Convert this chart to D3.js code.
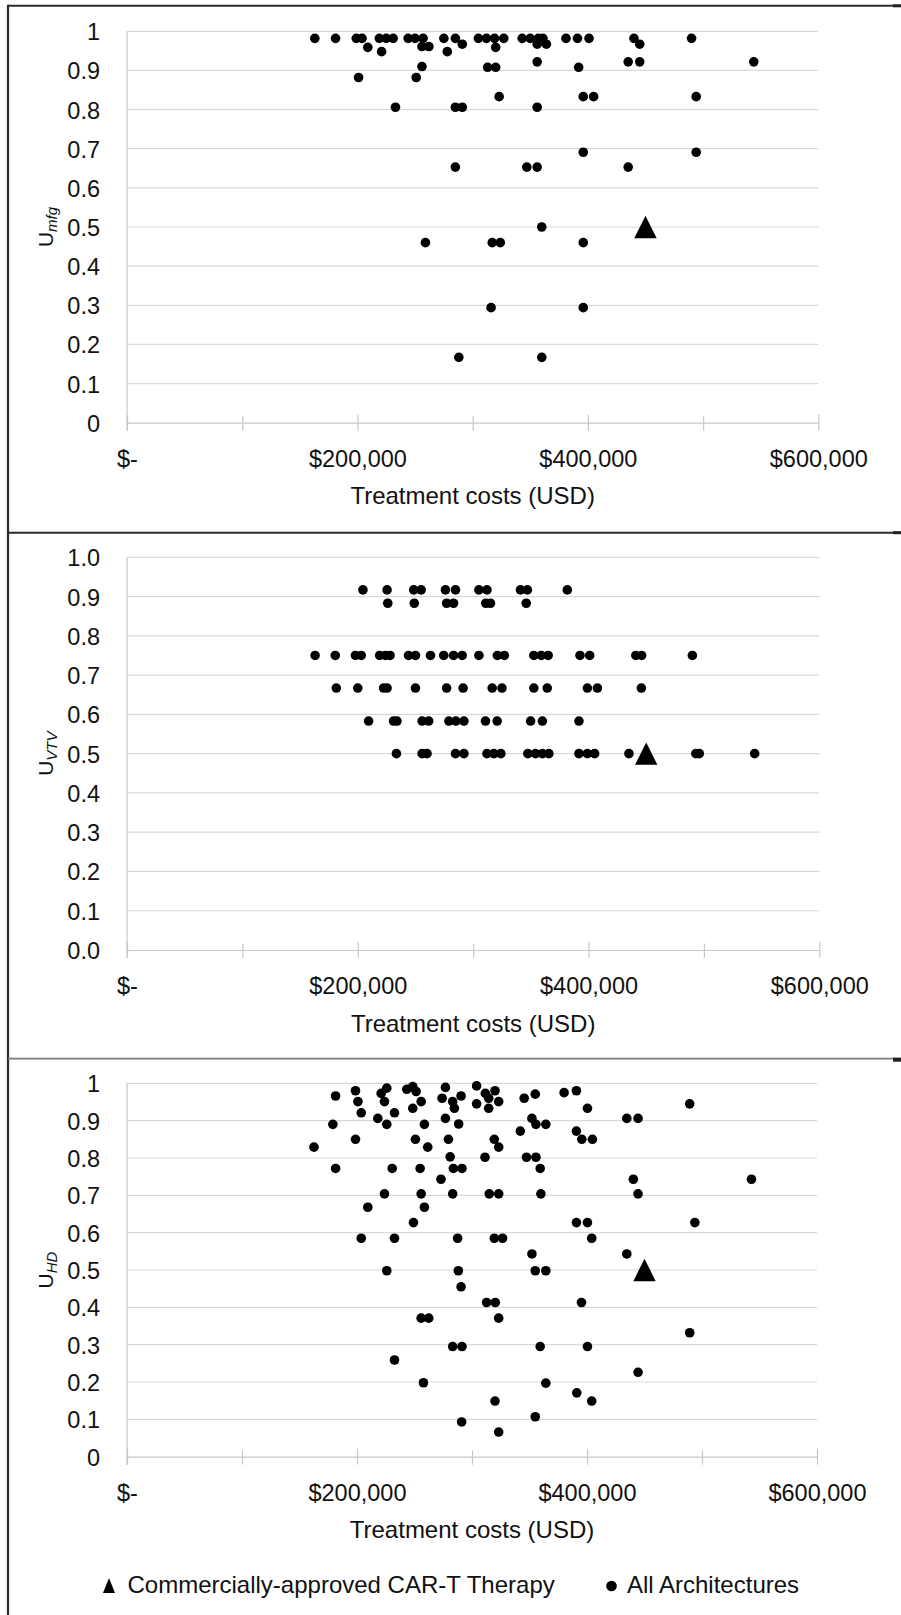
<!DOCTYPE html>
<html>
<head>
<meta charset="utf-8">
<script src="https://cdn.jsdelivr.net/npm/d3@7"></script>
<style>
  html, body { margin: 0; padding: 0; background: #fff; }
  svg { display: block; }
  text { font-family: "Liberation Sans", Arial, sans-serif; fill: #111; }
</style>
</head>
<body>
<svg id="chart" width="901" height="1615"></svg>
<script>
// Treatment cost axis (thousand USD)
const costTicks = [0, 100, 200, 300, 400, 500, 600];
const costLabels = { 0: "$-", 200: "$200,000", 400: "$400,000", 600: "$600,000" };
const uTicks = [0, 0.1, 0.2, 0.3, 0.4, 0.5, 0.6, 0.7, 0.8, 0.9, 1.0];

// Commercially-approved CAR-T therapy: [cost (k$), utility], same in all three panels
const approvedTherapy = [450, 0.5];

// Manufacturing utility U_mfg for every architecture: [cost (k$), utility]
const mfgPoints = [
  [163, 0.982], [181, 0.982], [199, 0.982], [204, 0.982], [219, 0.982], [225, 0.982],
  [231, 0.982], [244, 0.982], [250, 0.982], [257, 0.982], [275, 0.982], [285, 0.982],
  [305, 0.982], [312, 0.982], [319, 0.982], [327, 0.982], [343, 0.982], [350, 0.982],
  [357, 0.982], [361, 0.982], [381, 0.982], [391, 0.982], [401, 0.982], [440, 0.982],
  [490, 0.982],
  [209, 0.959], [221, 0.948], [256, 0.961], [262, 0.961], [278, 0.948], [291, 0.967],
  [320, 0.959], [356, 0.967], [364, 0.967], [445, 0.967],
  [356, 0.922], [435, 0.922], [445, 0.922], [544, 0.922],
  [256, 0.910], [313, 0.908], [320, 0.908], [392, 0.908],
  [201, 0.882], [251, 0.882],
  [323, 0.833], [396, 0.833], [405, 0.833], [494, 0.833],
  [233, 0.806], [285, 0.806], [291, 0.806], [356, 0.806],
  [396, 0.691], [494, 0.691],
  [285, 0.653], [347, 0.653], [356, 0.653], [435, 0.653],
  [360, 0.500],
  [259, 0.460], [317, 0.460], [324, 0.460], [396, 0.460],
  [316, 0.294], [396, 0.294],
  [288, 0.167], [360, 0.167]
];

// Vein-to-vein utility U_VTV
const vtvPoints = [
  [204.5, 0.917], [225.4, 0.917], [248.5, 0.917], [254.9, 0.917], [276, 0.917], [284.7, 0.917],
  [305, 0.917], [312, 0.917], [341, 0.917], [347, 0.917], [381.6, 0.917],
  [226, 0.883], [249, 0.883], [277, 0.883], [283, 0.883], [311, 0.883], [315, 0.883], [346, 0.883],
  [163, 0.75], [180.5, 0.75], [198, 0.75], [203, 0.75], [219, 0.75], [224, 0.75], [228, 0.75],
  [244, 0.75], [250, 0.75], [263, 0.75], [274.5, 0.75], [283, 0.75], [290.5, 0.75], [305, 0.75],
  [321, 0.75], [327, 0.75], [352.6, 0.75], [359, 0.75], [365, 0.75], [392.6, 0.75], [401, 0.75],
  [441, 0.75], [446, 0.75], [490, 0.75],
  [181.4, 0.667], [200, 0.667], [222.4, 0.667], [225.4, 0.667], [250, 0.667], [277, 0.667],
  [291.3, 0.667], [316.5, 0.667], [325, 0.667], [352.6, 0.667], [364.2, 0.667], [399, 0.667],
  [407.7, 0.667], [445.8, 0.667],
  [209.4, 0.583], [231, 0.583], [234, 0.583], [255.8, 0.583], [261.5, 0.583], [279, 0.583],
  [285, 0.583], [292, 0.583], [310.7, 0.583], [320.8, 0.583], [349.8, 0.583], [360, 0.583],
  [391.7, 0.583],
  [233.5, 0.5], [255.8, 0.5], [260, 0.5], [284.7, 0.5], [292, 0.5], [312, 0.5], [318, 0.5],
  [324, 0.5], [347.4, 0.5], [354, 0.5], [360, 0.5], [365.6, 0.5], [391.7, 0.5], [399, 0.5],
  [405.3, 0.5], [435, 0.5], [493, 0.5], [496, 0.5], [544, 0.5]
];

// Hospital-delivery utility U_HD
const hdPoints = [
  [181.4, 0.966], [198.7, 0.980], [200.8, 0.951], [203.7, 0.921], [221, 0.973], [225.9, 0.987],
  [223.9, 0.951], [232.6, 0.921], [218.1, 0.906], [225.9, 0.890], [179, 0.890], [198.7, 0.850],
  [162.6, 0.829], [181.4, 0.772], [230.6, 0.772], [254.9, 0.772], [243.3, 0.984], [248.5, 0.991],
  [251.4, 0.978], [255.8, 0.951], [248.5, 0.933], [258.6, 0.890], [250.8, 0.850], [261.5, 0.829],
  [276.9, 0.989], [274, 0.960], [276.9, 0.906], [279.5, 0.850], [281, 0.803], [273, 0.743],
  [223.9, 0.704], [255.8, 0.704], [209.4, 0.668], [258.6, 0.668], [249.1, 0.627], [203.7, 0.585],
  [232.6, 0.585], [225.9, 0.498], [255.8, 0.371], [262.4, 0.371], [232.6, 0.259], [257.8, 0.198],
  [304, 0.993], [311.6, 0.973], [320, 0.980], [290.5, 0.966], [283.2, 0.951], [284.7, 0.933],
  [304, 0.945], [314.5, 0.960], [314.5, 0.933], [323.2, 0.951], [345.4, 0.960], [355, 0.971],
  [380.1, 0.975], [390.8, 0.980], [400.4, 0.933], [489.3, 0.945], [434.6, 0.906], [444.4, 0.906],
  [288.4, 0.891], [352.1, 0.906], [355.6, 0.890], [364.2, 0.890], [342, 0.872], [390.8, 0.872],
  [319.4, 0.850], [323.2, 0.829], [395.5, 0.850], [404.7, 0.850], [311.3, 0.802], [347.4, 0.802],
  [355.6, 0.802], [283.8, 0.772], [291.3, 0.772], [359.3, 0.772], [440.3, 0.743], [543, 0.743],
  [283.2, 0.704], [315, 0.704], [323.2, 0.704], [359.9, 0.704], [444.4, 0.704], [390.8, 0.627],
  [400.4, 0.627], [493.8, 0.627], [287.5, 0.585], [319.4, 0.585], [326.6, 0.585], [404.1, 0.585],
  [352.1, 0.543], [434.6, 0.543], [288.1, 0.498], [355, 0.498], [364.2, 0.498], [290.5, 0.455],
  [312.7, 0.413], [320.2, 0.413], [395.2, 0.413], [323.2, 0.371], [489.3, 0.332], [283.2, 0.295],
  [291.3, 0.295], [359.3, 0.295], [400.4, 0.295], [444.4, 0.226], [364.2, 0.197], [391.1, 0.171],
  [404.1, 0.149], [320, 0.149], [291, 0.093], [355, 0.107], [323.2, 0.066]
];

const svg = d3.select("#chart");

// Panel layout: plot box in pixels
const panels = [
  { data: mfgPoints, sub: "mfg", fmt: d3.format(""), left: 127, right: 818.3, top: 31.3, bottom: 422.7 },
  { data: vtvPoints, sub: "VTV", fmt: d3.format(".1f"), left: 127, right: 819.3, top: 557.3, bottom: 950 },
  { data: hdPoints, sub: "HD", fmt: d3.format(""), left: 127, right: 817, top: 1083.3, bottom: 1456.7 }
];

// Outer frame lines
const frame = svg.append("g");
frame.append("line").attr("x1", 8).attr("x2", 901).attr("y1", 5.7).attr("y2", 5.7)
  .attr("stroke", "#2b2b2b").attr("stroke-width", 2);
frame.append("line").attr("x1", 8).attr("x2", 8).attr("y1", 4.7).attr("y2", 1615)
  .attr("stroke", "#2b2b2b").attr("stroke-width", 2.2);
frame.append("line").attr("x1", 8).attr("x2", 901).attr("y1", 532.7).attr("y2", 532.7)
  .attr("stroke", "#2b2b2b").attr("stroke-width", 2);
frame.append("line").attr("x1", 8).attr("x2", 901).attr("y1", 1058.7).attr("y2", 1058.7)
  .attr("stroke", "#7a7a7a").attr("stroke-width", 1.8);
[[4.3, 3], [531.2, 3], [1057.7, 4]].forEach(([y, h]) => {
  frame.append("rect").attr("x", 893).attr("y", y).attr("width", 8).attr("height", h).attr("fill", "#222");
});

const fontTick = 23.5;

panels.forEach(p => {
  const x = d3.scaleLinear().domain([0, 600]).range([p.left, p.right]);
  const y = d3.scaleLinear().domain([0, 1]).range([p.bottom, p.top]);
  const g = svg.append("g");

  // horizontal gridlines
  g.append("g").selectAll("line").data(uTicks.filter(d => d > 0)).join("line")
    .attr("x1", x(0)).attr("x2", x(600))
    .attr("y1", d => y(d)).attr("y2", d => y(d))
    .attr("stroke", "#d9d9d9").attr("stroke-width", 1.2);

  // vertical axis line
  g.append("line").attr("x1", x(0)).attr("x2", x(0))
    .attr("y1", y(1)).attr("y2", y(0) + 8)
    .attr("stroke", "#c8c8c8").attr("stroke-width", 1.2);

  // y axis labels
  g.append("g").attr("transform", `translate(${x(0)},0)`)
    .call(d3.axisLeft(y).tickValues(uTicks).tickFormat(p.fmt).tickSize(0).tickPadding(27))
    .call(a => a.select(".domain").remove())
    .call(a => a.selectAll("text").attr("dy", "0.36em")
      .style("font-size", fontTick + "px").style("font-family", '"Liberation Sans", Arial, sans-serif').attr("fill", "#111"));

  // x axis with crossing ticks
  g.append("g").attr("transform", `translate(0,${y(0)})`)
    .call(d3.axisBottom(x).tickValues(costTicks).tickFormat(d => costLabels[d] || "").tickSizeOuter(0))
    .call(a => a.select(".domain").attr("stroke", "#c8c8c8").attr("stroke-width", 1.2))
    .call(a => a.selectAll(".tick line").attr("y1", d => d % 200 === 0 ? -8 : -6.5).attr("y2", 8)
      .attr("stroke", "#c8c8c8").attr("stroke-width", 1.2))
    .call(a => a.selectAll("text").attr("y", 44).attr("dy", 0)
      .style("font-size", fontTick + "px").style("font-family", '"Liberation Sans", Arial, sans-serif').attr("fill", "#111"));

  // x axis title
  g.append("text").attr("x", (x(0) + x(600)) / 2).attr("y", y(0) + 81.5)
    .attr("text-anchor", "middle").style("font-size", "24px")
    .text("Treatment costs (USD)");

  // y axis title: U with italic subscript
  const yt = g.append("text")
    .attr("transform", `translate(53,${(y(0) + y(1)) / 2}) rotate(-90)`)
    .attr("text-anchor", "middle").style("font-size", "21px");
  yt.append("tspan").text("U");
  yt.append("tspan").attr("dy", 3.5).style("font-size", "15px").style("font-style", "italic").text(p.sub);

  // architecture points
  g.append("g").selectAll("circle").data(p.data).join("circle")
    .attr("cx", d => x(d[0])).attr("cy", d => y(d[1])).attr("r", 4.8).attr("fill", "#000");

  // approved therapy triangle (bbox centred on the value)
  const tx = x(approvedTherapy[0]), ty = y(approvedTherapy[1]);
  g.append("path")
    .attr("d", `M${tx},${ty - 11.2}L${tx + 11.2},${ty + 11.2}L${tx - 11.2},${ty + 11.2}Z`)
    .attr("fill", "#000");
});

// Legend
const leg = svg.append("g");
leg.append("path").attr("d", "M109,1578L115,1593L103,1593Z").attr("fill", "#000");
leg.append("text").attr("x", 127.5).attr("y", 1593).style("font-size", "24px")
  .text("Commercially-approved CAR-T Therapy");
leg.append("circle").attr("cx", 611.5).attr("cy", 1586).attr("r", 5.3).attr("fill", "#000");
leg.append("text").attr("x", 627).attr("y", 1593).style("font-size", "24px")
  .text("All Architectures");
</script>
</body>
</html>
